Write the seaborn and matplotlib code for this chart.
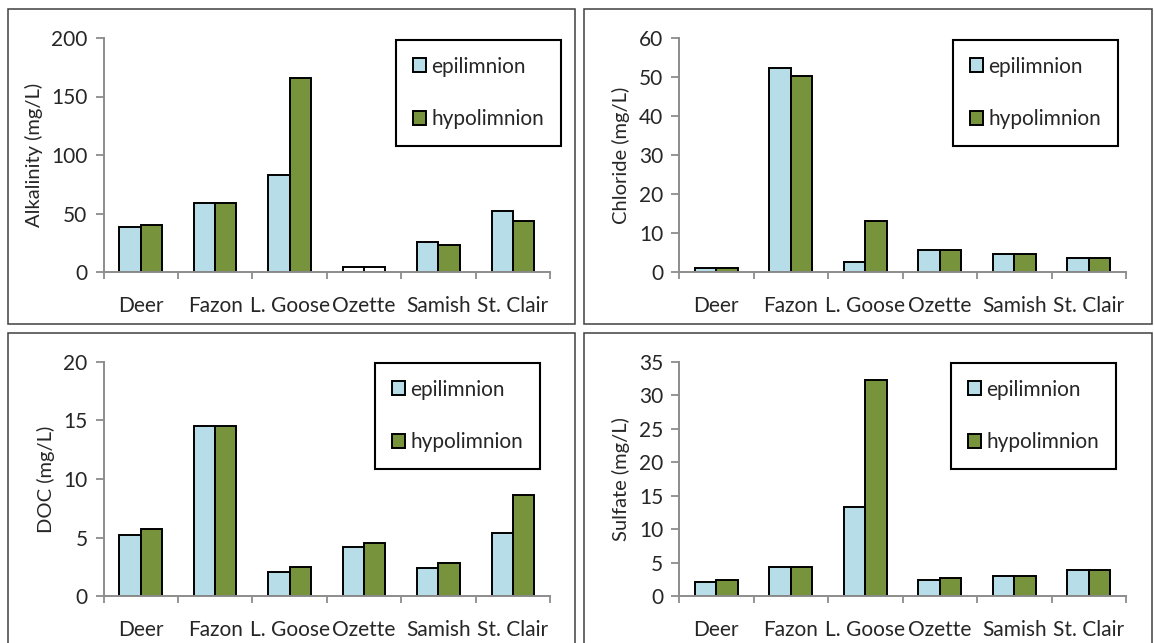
import numpy as np
import pandas as pd
import matplotlib
matplotlib.use("Agg")
import matplotlib.pyplot as plt
from matplotlib.patches import Patch, Rectangle
import seaborn as sns

lakes = ["Deer", "Fazon", "L. Goose", "Ozette", "Samish", "St. Clair"]
layers = ["epilimnion", "hypolimnion"]

alk_epi = [38.5, 59, 83, 4.6, 25.4, 52.4]
alk_hypo = [40.4, 59, 166, 4.6, 23.4, 43.9]
chl_epi = [1.1, 52.3, 2.6, 5.6, 4.6, 3.6]
chl_hypo = [1.1, 50.3, 13.2, 5.6, 4.6, 3.6]
doc_epi = [5.23, 14.54, 2.02, 4.21, 2.36, 5.4]
doc_hypo = [5.72, 14.54, 2.5, 4.55, 2.84, 8.65]
sul_epi = [2.04, 4.38, 13.3, 2.34, 2.94, 3.83]
sul_hypo = [2.34, 4.38, 32.3, 2.64, 2.94, 3.83]

# lakes drawn with unfilled (white) bars, per panel
alk_white = ["Ozette"]

panels = [
    ("Alkalinity (mg/L)", alk_epi, alk_hypo, 200, 50, alk_white),
    ("Chloride (mg/L)", chl_epi, chl_hypo, 60, 10, []),
    ("DOC (mg/L)", doc_epi, doc_hypo, 20, 5, []),
    ("Sulfate (mg/L)", sul_epi, sul_hypo, 35, 5, []),
]

epi_color = "#B7DDE8"
hypo_color = "#77933C"
axis_gray = "#8C8C8C"

sns.set_style("white")
plt.rcParams["font.family"] = ["Lato", "DejaVu Sans"]

W, H = 1154, 643
fig = plt.figure(figsize=(W / 100, H / 100), dpi=100)

# axes positions in pixels: (left, right, top, bottom)
ax_px = [
    (103.5, 550, 38, 272),
    (679, 1126, 38, 272),
    (103.5, 550, 362, 596),
    (679, 1126, 362, 596),
]
box_px = [
    (8, 575, 9, 324),
    (584, 1152, 9, 324),
    (8, 575, 333, 660),
    (584, 1152, 333, 660),
]
leg_px = [(396, 40), (953, 40), (375, 363), (951, 363)]

for (ylabel, epi, hypo, ymax, step, white), (l, r, t, b), (bl, br, bt, bb), (lx, ly) in zip(
        panels, ax_px, box_px, leg_px):
    fig.patches.append(Rectangle((bl / W, 1 - bb / H), (br - bl) / W, (bb - bt) / H,
                                 transform=fig.transFigure, fill=False,
                                 edgecolor="#404040", linewidth=1.1, zorder=0))
    ax = fig.add_axes([l / W, 1 - b / H, (r - l) / W, (b - t) / H])
    df = pd.DataFrame({
        "lake": lakes * 2,
        "layer": [layers[0]] * len(lakes) + [layers[1]] * len(lakes),
        "value": list(epi) + list(hypo),
    })
    sns.barplot(data=df, x="lake", y="value", hue="layer", order=lakes,
                hue_order=layers, palette=[epi_color, hypo_color],
                edgecolor="black", linewidth=1.4, width=0.571, gap=0,
                saturation=1, ax=ax, legend=False, errorbar=None)
    # unfilled bars
    for c in ax.containers:
        for lake, bar in zip(lakes, c):
            if lake in white:
                bar.set_facecolor("white")
    ax.set_xlim(-0.5, len(lakes) - 0.5)
    ax.set_ylim(0, ymax)
    ax.set_yticks(np.arange(0, ymax + step / 2, step))
    ax.set_xticks(range(len(lakes)))
    ax.set_xticklabels(lakes)
    ax.set_xticks(np.arange(-0.5, len(lakes), 1.0), minor=True)
    ax.tick_params(axis="x", which="major", length=0, pad=17, labelsize=15)
    ax.tick_params(axis="x", which="minor", length=5, width=1.3, color=axis_gray,
                   direction="out", bottom=True)
    ax.tick_params(axis="y", which="major", length=5.5, width=1.3, color=axis_gray,
                   direction="out", left=True, pad=6, labelsize=15)
    for s in ["top", "right"]:
        ax.spines[s].set_visible(False)
    for s in ["left", "bottom"]:
        ax.spines[s].set_color(axis_gray)
        ax.spines[s].set_linewidth(1.4)
    ax.set_xlabel("")
    ax.set_ylabel(ylabel, fontsize=14.5, labelpad=6)
    ax.set_facecolor("none")

    handles = [Patch(facecolor=epi_color, edgecolor="black", linewidth=1.4, label=layers[0]),
               Patch(facecolor=hypo_color, edgecolor="black", linewidth=1.4, label=layers[1])]
    leg = fig.legend(handles=handles, loc="upper left",
                     bbox_to_anchor=(lx / W, 1 - ly / H),
                     bbox_transform=fig.transFigure,
                     frameon=True, fancybox=False, framealpha=1,
                     edgecolor="black", fontsize=15,
                     handlelength=0.65, handleheight=0.65, handletextpad=0.25,
                     labelspacing=1.55, borderpad=0.8, borderaxespad=0)
    leg.get_frame().set_linewidth(1.5)

fig.savefig("out.png", dpi=100, facecolor="white")
